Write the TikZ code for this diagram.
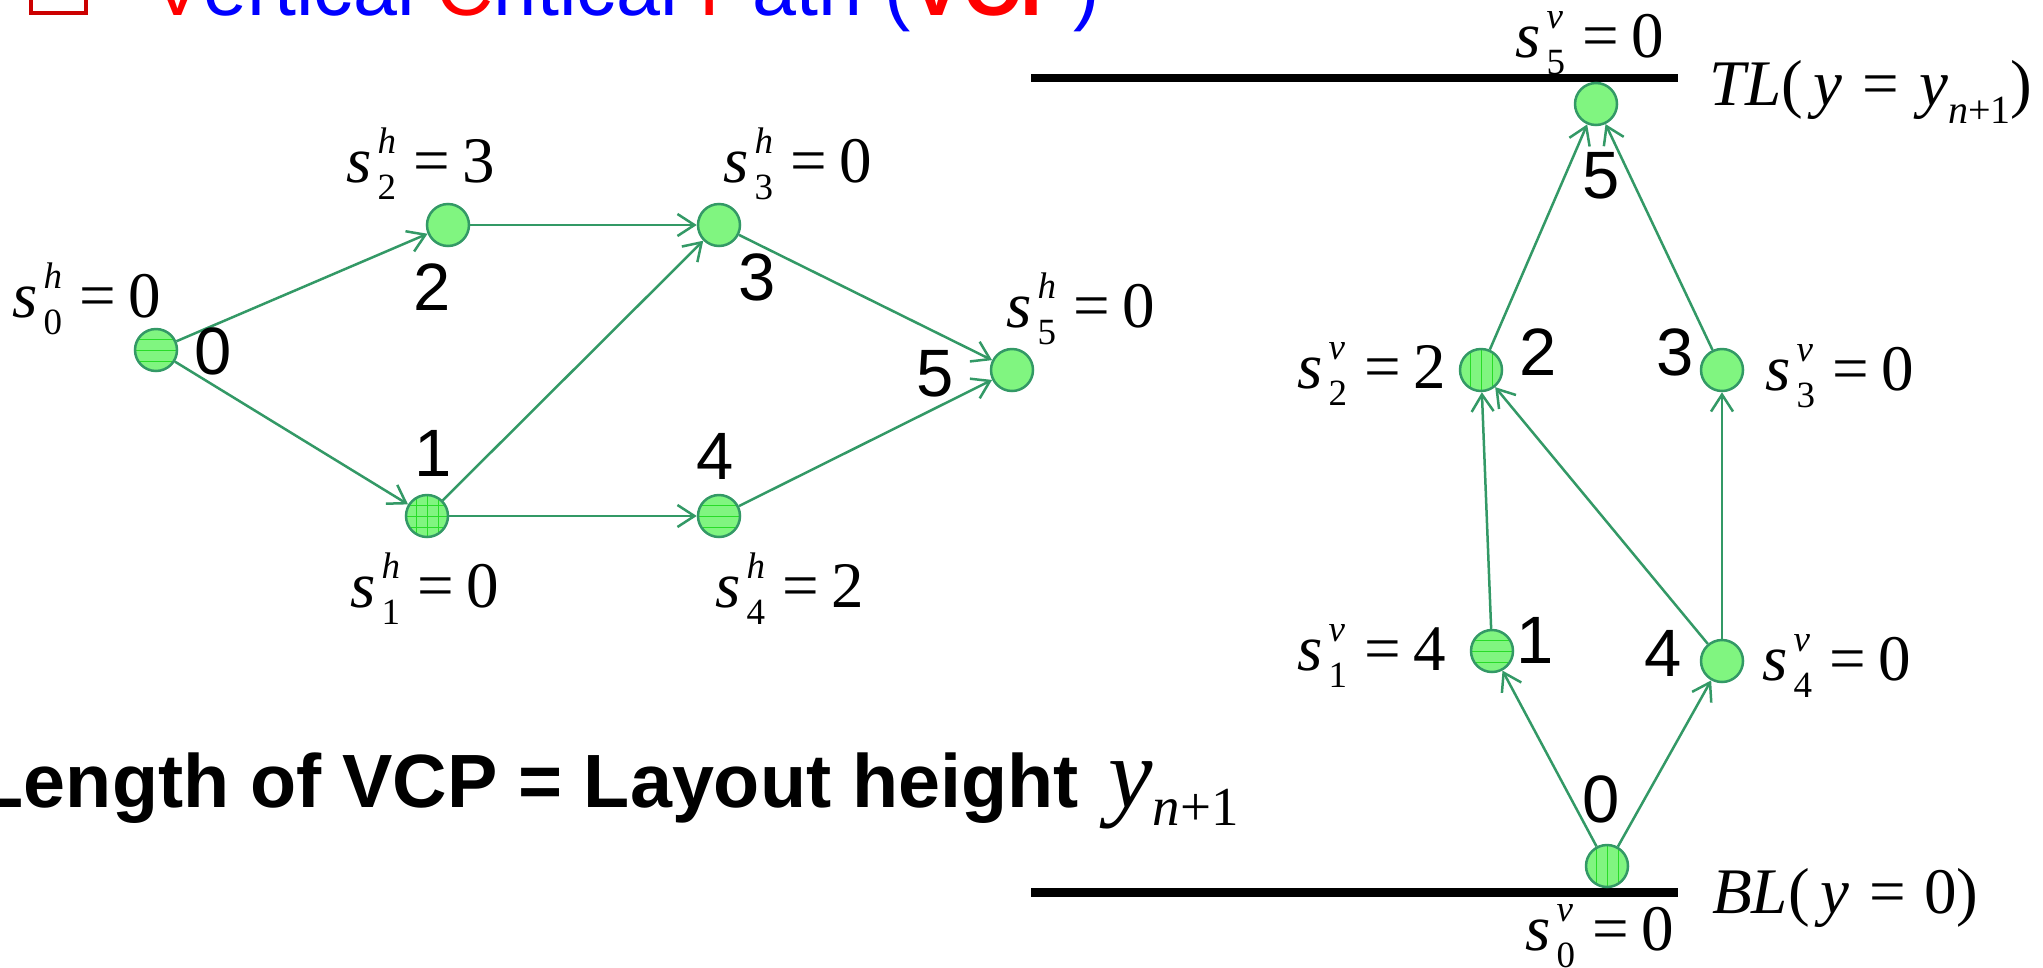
\documentclass[tikz,border=0pt]{standalone}
\usepackage{fontspec}
\setmainfont{Liberation Sans}
\newfontfamily\tnr{Liberation Serif}
\usetikzlibrary{arrows.meta}
\definecolor{edgegreen}{RGB}{51,153,102}
\definecolor{nodefill}{RGB}{128,245,128}
\definecolor{hatchgreen}{RGB}{40,220,40}
\definecolor{boxred}{RGB}{204,0,0}
\newcommand\fs[1]{\fontsize{#1}{#1}\selectfont}
\newcommand\slab[3]{\tnr\fs{65}\itshape s\rlap{\raisebox{29pt}{\fs{37}\,#1}}\raisebox{-17pt}{\fs{37}\upshape\,#2}\upshape\hspace{17pt}=\hspace{13pt}#3}
\tikzset{
  vtx/.style={circle, draw=edgegreen, line width=2.5pt, fill=nodefill, minimum size=42pt, inner sep=0pt},
  edge/.style={draw=edgegreen, line width=2.5pt, -{Straight Barb[length=17pt,width=22pt]}},
  hatchline/.style={hatchgreen, line width=1pt},
  hh/.style={path picture={\foreach \d in {-11,0,11}{\draw[hatchline] ([yshift=\d pt]path picture bounding box.west) -- ([yshift=\d pt]path picture bounding box.east);}}},
  vh/.style={path picture={\foreach \d in {-11,0,11}{\draw[hatchline] ([xshift=\d pt]path picture bounding box.south) -- ([xshift=\d pt]path picture bounding box.north);}}},
  gh/.style={path picture={\foreach \d in {-11,0,11}{\draw[hatchline] ([yshift=\d pt]path picture bounding box.west) -- ([yshift=\d pt]path picture bounding box.east); \draw[hatchline] ([xshift=\d pt]path picture bounding box.south) -- ([xshift=\d pt]path picture bounding box.north);}}},
  num/.style={font=\fs{67}, inner sep=0pt},
  lab/.style={anchor=base west, inner sep=0pt},
  layerline/.style={line width=9pt, black}
}
\begin{document}
\begin{tikzpicture}[x=1pt,y=-1pt]
\useasboundingbox (0,0) rectangle (2043,967);
\clip (0,0) rectangle (2043,967);
\fill[white] (0,0) rectangle (2043,967);
% title (cut off at the top)
\draw[boxred, line width=4pt] (30.5,-60) rectangle (85.5,12.5);
\node[anchor=base west, inner sep=0pt, font=\fs{79}] (title) at (151,15.5) {\textcolor{red}{V}\textcolor{blue}{ertical }\textcolor{red}{C}\textcolor{blue}{ritical }\textcolor{red}{P}\textcolor{blue}{ath (}\textcolor{red}{\bfseries VCP}\textcolor{blue}{)}};
% horizontal constraint graph
\node[vtx, hh] (n0) at (156,350) {};
\node[vtx] (n2) at (448,225) {};
\node[vtx] (n3) at (719,225) {};
\node[vtx, gh] (n1) at (427,516) {};
\node[vtx, hh] (n4) at (719,516) {};
\node[vtx] (n5) at (1012,370) {};
\draw[edge] (n0) -- (n2);
\draw[edge] (n0) -- (n1);
\draw[edge] (n2) -- (n3);
\draw[edge] (n1) -- (n3);
\draw[edge] (n1) -- (n4);
\draw[edge] (n3) -- (n5);
\draw[edge] (n4) -- (n5);
\node[num] (k0) at (213,351) {0};
\node[num] (k2) at (432,287) {2};
\node[num] (k3) at (757,277) {3};
\node[num] (k1) at (433,453) {1};
\node[num] (k4) at (715,456) {4};
\node[num] (k5) at (935,374) {5};
\node[lab] (h0) at (12,317) {\slab{h}{0}{0}};
\node[lab] (h2) at (346,182) {\slab{h}{2}{3}};
\node[lab] (h3) at (723,182) {\slab{h}{3}{0}};
\node[lab] (h5) at (1006,327) {\slab{h}{5}{0}};
\node[lab] (h1) at (350,607) {\slab{h}{1}{0}};
\node[lab] (h4) at (715,607) {\slab{h}{4}{2}};
% vertical constraint graph
\coordinate (tla) at (1031,78);
\coordinate (tlb) at (1678,78);
\coordinate (bla) at (1031,892);
\coordinate (blb) at (1678,892);
\draw[layerline, line width=8pt] (tla) -- (tlb);
\draw[layerline] (bla) -- (blb);
\node[vtx] (v5) at (1596,104) {};
\node[vtx, vh] (v2) at (1481,370) {};
\node[vtx] (v3) at (1722,370) {};
\node[vtx, hh] (v1) at (1492,651) {};
\node[vtx] (v4) at (1722,661) {};
\node[vtx, vh] (v0) at (1607,866) {};
\draw[edge] (v0) -- (v1);
\draw[edge] (v0) -- (v4);
\draw[edge] (v1) -- (v2);
\draw[edge] (v4) -- (v2);
\draw[edge] (v4) -- (v3);
\draw[edge] (v2) -- (v5);
\draw[edge] (v3) -- (v5);
\node[num] (m5) at (1601,176) {5};
\node[num] (m2) at (1538,352) {2};
\node[num] (m3) at (1675,352) {3};
\node[num] (m1) at (1535,640) {1};
\node[num] (m4) at (1663,653) {4};
\node[num] (m0) at (1601,799) {0};
\node[lab] (w5) at (1515,57) {\slab{v}{5}{0}};
\node[lab] (w2) at (1297,388) {\slab{v}{2}{2}};
\node[lab] (w3) at (1765,390) {\slab{v}{3}{0}};
\node[lab] (w1) at (1297,670) {\slab{v}{1}{4}};
\node[lab] (w4) at (1762,680) {\slab{v}{4}{0}};
\node[lab] (w0) at (1525,950) {\slab{v}{0}{0}};
\node[lab, font=\tnr\fs{65}] (tl) at (1709,105) {\itshape TL\upshape(\,\itshape y\upshape\hspace{20pt}=\hspace{20pt}\itshape y\raisebox{-18pt}{\fs{40}\itshape n\upshape+1}\upshape)};
\node[lab, font=\tnr\fs{65}] (bl) at (1712,913) {\itshape BL\upshape(\,\itshape y\upshape\hspace{20pt}=\hspace{18pt}0)};
% statement
\node[anchor=base east, inner sep=0pt, font=\bfseries\fs{75.5}] (len) at (1079,807) {Length of VCP = Layout height};
\node[anchor=base west, inner sep=0pt, font=\tnr\fs{100}] (yn) at (1108,807) {\itshape y\raisebox{-18pt}{\fs{55}\itshape n\upshape+1}};
\end{tikzpicture}
\end{document}
